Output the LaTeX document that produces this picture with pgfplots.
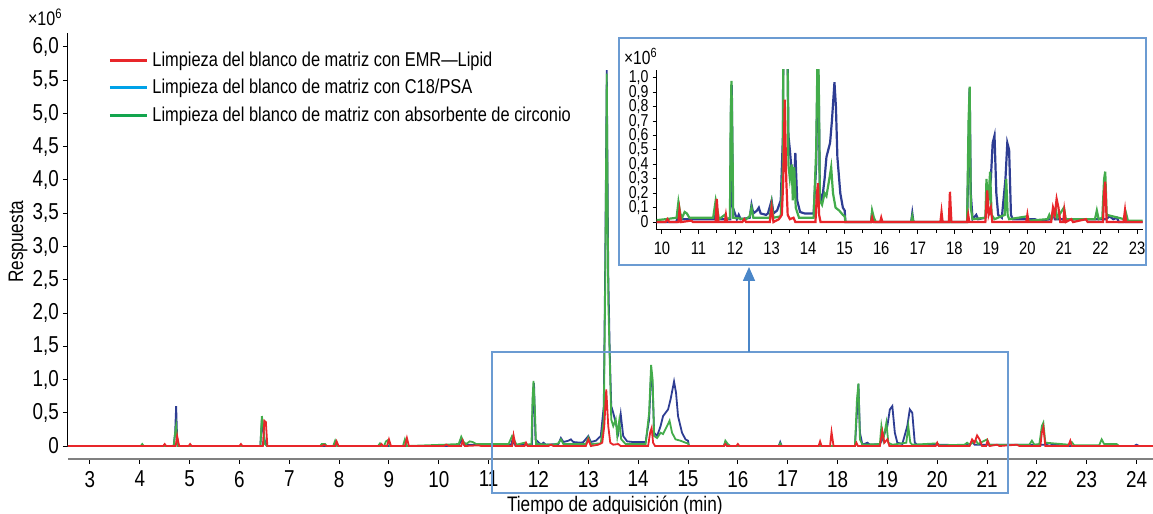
\documentclass[border=0pt]{standalone}
\usepackage{fontspec}
\setmainfont[FakeStretch=0.82]{Liberation Sans}
\usepackage{pgfplots}
\pgfplotsset{compat=1.18}
\usepackage{pgfplotstable}
\usetikzlibrary{arrows.meta}

\definecolor{cred}{HTML}{E8262A}
\definecolor{cnavy}{HTML}{2E3D93}
\definecolor{cgreen}{HTML}{43AC4B}
\definecolor{legblue}{HTML}{00A2E8}
\definecolor{leggreen}{HTML}{13A54E}
\definecolor{boxblue}{HTML}{6B9BD2}
\definecolor{arrowblue}{HTML}{4A86C8}

% blanco con EMR-Lipid
\pgfplotstableread{
x y
2.56 0
4.47 0
4.50 0.03
4.53 0
4.72 0
4.75 0.15
4.79 0
4.98 0
5.01 0.03
5.04 0
6.00 0
6.03 0.03
6.06 0
6.47 0
6.50 0.38
6.53 0.36
6.56 0
7.66 0
7.70 0.02
7.74 0
7.92 0
7.95 0.07
7.99 0
8.82 0
8.85 0.03
8.88 0
8.96 0
9.00 0.10
9.04 0
9.32 0
9.36 0.12
9.40 0
10.10 0
10.15 0.02
10.20 0
10.45 0
10.48 0.08
10.52 0
10.80 0.01
10.85 0
11.47 0
11.50 0.16
11.54 0
11.72 0
11.75 0.05
11.78 0
12.20 0
12.25 0.02
12.30 0
12.95 0
13.00 0.10
13.05 0
13.20 0.02
13.28 0.05
13.32 0.30
13.36 0.85
13.40 0.30
13.44 0.05
13.50 0.02
13.60 0.03
13.65 0
14.20 0
14.24 0.20
14.27 0.27
14.30 0.05
14.34 0
15.72 0
15.75 0.03
15.78 0
15.97 0
16.00 0.03
16.03 0
17.62 0
17.65 0.07
17.68 0
17.85 0
17.88 0.21
17.92 0
18.35 0
18.38 0.05
18.41 0
18.85 0
18.90 0.22
18.94 0.05
19.00 0.10
19.04 0
19.97 0
20.00 0.05
20.03 0
20.65 0
20.70 0.10
20.75 0.05
20.80 0.16
20.85 0.10
20.90 0
20.98 0
21.01 0.08
21.05 0
21.20 0.02
21.25 0
21.60 0.02
21.65 0
22.07 0
22.10 0.20
22.13 0.28
22.17 0
22.63 0
22.67 0.08
22.70 0
24.33 0
}\redtab

% blanco con C18/PSA
\pgfplotstableread{
x y
2.56 0
4.68 0
4.71 0.20
4.73 0.60
4.75 0.10
4.78 0
6.42 0
6.45 0.40
6.50 0.10
6.55 0
7.90 0
7.93 0.06
7.97 0
10.40 0
10.45 0.10
10.50 0.02
11.45 0.02
11.48 0.10
11.52 0.02
11.87 0.02
11.89 0.80
11.91 0.95
11.94 0.10
12.05 0.02
12.10 0.05
12.15 0.02
12.40 0.03
12.45 0.12
12.50 0.06
12.60 0.08
12.65 0.10
12.70 0.06
12.85 0.05
12.90 0.06
13.00 0.15
13.05 0.06
13.15 0.08
13.25 0.15
13.31 0.60
13.34 2.80
13.37 5.65
13.40 2.60
13.43 1.40
13.46 0.60
13.50 0.50
13.55 0.35
13.60 0.20
13.65 0.48
13.70 0.15
13.78 0.07
13.90 0.06
14.15 0.06
14.22 0.40
14.26 1.10
14.29 0.90
14.32 0.20
14.38 0.15
14.45 0.30
14.50 0.45
14.55 0.50
14.60 0.55
14.65 0.70
14.72 0.97
14.76 0.80
14.80 0.45
14.88 0.20
14.95 0.10
15.00 0.08
15.02 0
15.72 0
15.75 0.06
15.80 0
16.82 0
16.85 0.06
16.88 0
18.35 0
18.39 0.50
18.42 0.93
18.45 0.20
18.50 0.02
18.60 0.05
18.65 0.02
18.85 0.03
18.90 0.10
19.00 0.30
19.05 0.55
19.10 0.60
19.15 0.20
19.20 0.05
19.30 0.03
19.40 0.30
19.45 0.55
19.50 0.50
19.55 0.05
19.60 0.02
20.20 0.02
20.30 0.01
20.65 0.02
20.70 0.07
20.75 0.02
22.15 0.02
22.25 0.04
22.35 0.02
22.45 0.03
22.50 0
23.45 0
23.50 0.02
23.55 0
23.95 0
24.00 0.02
24.05 0
24.33 0
}\bluetab

% blanco con absorbente de circonio
\pgfplotstableread{
x y
2.56 0
4.02 0
4.05 0.03
4.08 0
4.68 0
4.71 0.20
4.73 0.30
4.76 0
6.42 0
6.45 0.45
6.48 0.30
6.51 0.03
6.55 0
7.62 0
7.65 0.03
7.72 0.03
7.75 0
7.88 0
7.92 0.08
7.96 0
8.78 0
8.82 0.04
8.86 0
8.90 0
8.94 0.07
8.98 0.09
9.02 0
9.28 0
9.32 0.10
9.36 0
10.10 0.02
10.40 0.03
10.45 0.14
10.50 0.06
10.55 0.03
10.62 0.07
10.68 0.06
10.75 0.03
11.40 0.03
11.47 0.15
11.52 0.08
11.56 0.02
11.72 0.05
11.78 0.02
11.86 0.03
11.88 0.70
11.90 0.98
11.93 0.50
11.95 0.03
12.30 0.02
12.40 0.04
12.45 0.10
12.50 0.03
12.95 0.03
13.00 0.13
13.05 0.03
13.25 0.04
13.31 0.40
13.34 2.50
13.37 5.60
13.40 2.20
13.43 1.30
13.46 0.40
13.50 0.30
13.55 0.40
13.58 0.15
13.62 0.38
13.66 0.10
13.75 0.03
14.15 0.03
14.22 0.50
14.26 1.22
14.29 1.00
14.32 0.15
14.38 0.12
14.45 0.20
14.50 0.18
14.58 0.30
14.63 0.38
14.68 0.20
14.75 0.10
14.85 0.08
14.95 0.05
15.00 0.04
15.02 0
15.72 0
15.75 0.08
15.80 0.03
15.85 0
16.82 0
16.85 0.04
16.88 0
18.35 0
18.39 0.70
18.42 0.94
18.45 0.10
18.50 0.02
18.85 0.03
18.88 0.30
18.92 0.10
18.98 0.35
19.02 0.05
19.10 0.02
19.38 0.05
19.42 0.30
19.46 0.05
19.50 0.02
20.00 0.04
20.05 0.01
20.55 0.02
20.60 0.05
20.65 0.02
20.78 0.08
20.82 0.03
21.00 0.10
21.05 0.02
21.85 0.02
21.90 0.08
21.95 0.02
22.05 0.03
22.10 0.30
22.13 0.35
22.17 0.05
22.65 0.02
22.70 0.06
22.75 0.01
23.25 0.01
23.30 0.10
23.35 0.03
23.60 0.03
23.65 0
24.33 0
}\greentab

\begin{document}
\begin{tikzpicture}
\begin{axis}[
    name=main,
    at={(0,0)}, anchor=south west,
    scale only axis,
    width=542.5pt, height=213pt,
    xmin=2.56, xmax=24.33,
    ymin=-0.195, ymax=6.21,
    axis x line=bottom,
    axis y line=left,
    separate axis lines,
    x axis line style={-, draw=gray, line width=1.1pt},
    y axis line style={-, draw=black, line width=0.5pt},
    every outer y axis line/.append style={shorten <=6.5pt},
    tick align=outside,
    major tick length=2.5pt,
    xtick={3,4,...,24},
    ytick={0,0.5,...,6},
    yticklabels={0,{0,5},{1,0},{1,5},{2,0},{2,5},{3,0},{3,5},{4,0},{4,5},{5,0},{5,5},{6,0}},
    tick style={black, line width=0.5pt},
    ticklabel style={font=\fontsize{11.5}{13}\selectfont},
    yticklabel style={xshift=1.5pt},
    /pgf/number format/assume math mode=true,
    xlabel={Tiempo de adquisición (min)},
    xlabel style={font=\fontsize{10.5}{12}\selectfont, at={(axis description cs:0.504,-0.11)}, anchor=center},
    ylabel={Respuesta},
    ylabel style={font=\fontsize{10.5}{12}\selectfont, at={(axis description cs:-0.046,0.51)}, anchor=center},
    legend style={at={(rel axis cs:0.0369,0.965)}, anchor=north west, draw=none, fill=none,
        inner sep=0pt, row sep=1.6pt, font=\fontsize{10}{11.5}\selectfont,
        nodes={inner xsep=2pt, inner ysep=1.7pt}},
    legend cell align=left,
    legend image code/.code={\draw[line width=1.5pt] (-1pt,0pt) -- (17.5pt,0pt);},
]
\addlegendimage{cred}
\addlegendentry{Limpieza del blanco de matriz con EMR---Lipid}
\addlegendimage{legblue}
\addlegendentry{Limpieza del blanco de matriz con C18/PSA}
\addlegendimage{leggreen}
\addlegendentry{Limpieza del blanco de matriz con absorbente de circonio}
\addplot[cnavy, line width=0.9pt, forget plot] table {\bluetab};
\addplot[cgreen, line width=0.9pt, forget plot] table {\greentab};
\addplot[cred, line width=0.9pt, forget plot] table {\redtab};
\end{axis}

\begin{axis}[
    name=inset,
    at={(294.25pt,114.5pt)}, anchor=south west,
    scale only axis,
    width=243pt, height=80pt,
    xmin=9.85, xmax=23.15,
    ymin=-0.055, ymax=1.055,
    axis x line=bottom,
    axis y line=left,
    axis line style={-, black, line width=0.5pt},
    tick align=outside,
    major tick length=2pt,
    minor tick length=1.3pt,
    xtick={10,11,...,23},
    minor x tick num=1,
    ytick={0,0.1,0.2,0.3,0.4,0.5,0.6,0.7,0.8,0.9,1.0},
    yticklabels={0,{0,1},{0,2},{0,3},{0,4},{0,5},{0,6},{0,7},{0,8},{0,9},{1,0}},
    tick style={black, line width=0.5pt},
    xticklabel style={font=\fontsize{9}{9.5}\selectfont, yshift=-0.5pt},
    yticklabel style={font=\fontsize{8.6}{8.6}\selectfont, xshift=1.5pt},
    /pgf/number format/assume math mode=true,
]
\addplot[cnavy, line width=1.1pt] table {\bluetab};
\addplot[cgreen, line width=1.1pt] table {\greentab};
\addplot[cred, line width=1.1pt] table {\redtab};
\end{axis}

\node[font=\fontsize{9.8}{12}\selectfont, anchor=base east, inner sep=0pt] at (-2.5pt,216.5pt) {×10\textsuperscript{6}};
\node[font=\fontsize{9.5}{11}\selectfont, anchor=base east, inner sep=0pt] at (295pt,197pt) {×10\textsuperscript{6}};

\draw[boxblue, line width=0.7pt] (275.5pt,97pt) rectangle (539pt,210.5pt);
\draw[boxblue, line width=0.7pt] (212pt,-17pt) rectangle (470pt,53.5pt);
\draw[arrowblue, line width=0.8pt, -{Triangle[length=7pt, width=6pt]}] (340.5pt,53.5pt) -- (340.5pt,96pt);

\pgfresetboundingbox
\path[use as bounding box] (-34pt,-27.5pt) rectangle (542.5pt,229.5pt);
\end{tikzpicture}
\end{document}
